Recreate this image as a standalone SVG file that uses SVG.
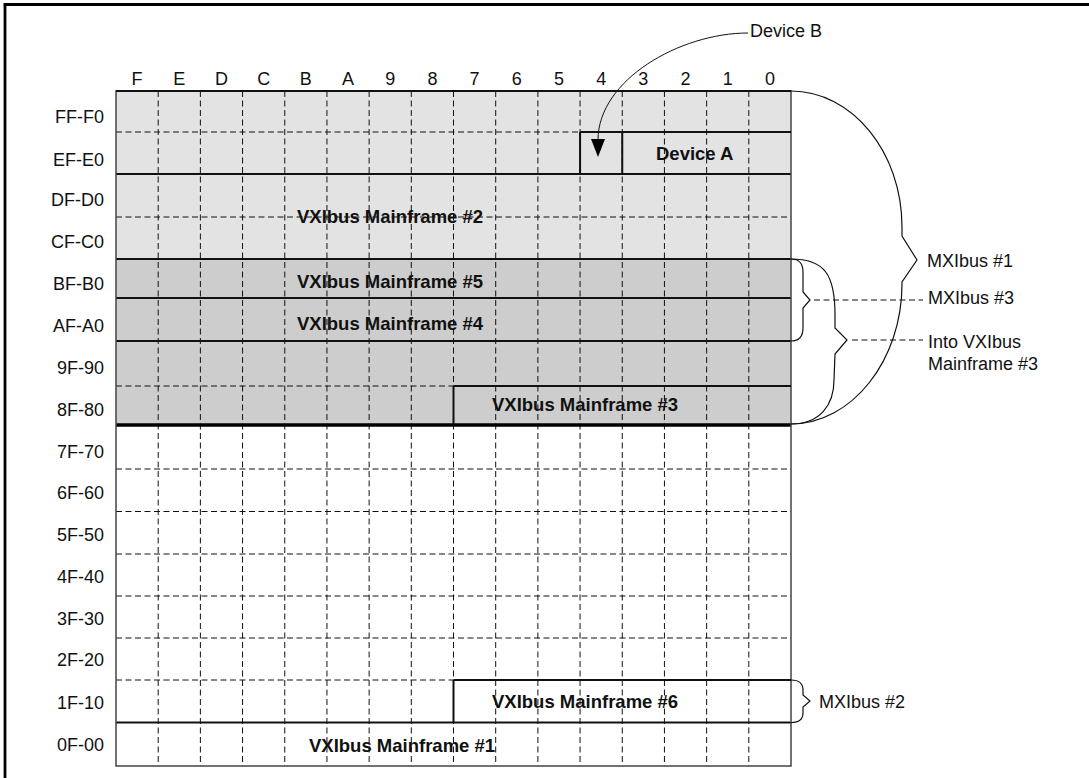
<svg xmlns="http://www.w3.org/2000/svg" width="1089" height="778" viewBox="0 0 1089 778">
<style>
.t{font-family:"Liberation Sans",Arial,Helvetica,sans-serif;font-size:18px;fill:#111}
.b{font-weight:bold;font-size:18.5px}
.e{text-anchor:end}
.m{text-anchor:middle}
.dash{fill:none;stroke:#111;stroke-width:1;stroke-dasharray:6 3.5}
.solid{fill:none;stroke:#111;stroke-width:2}
.thick{fill:none;stroke:#000;stroke-width:3.5}
.brace{fill:none;stroke:#111;stroke-width:1.2}
.lead{fill:none;stroke:#111;stroke-width:1}
.ldash{fill:none;stroke:#111;stroke-width:1;stroke-dasharray:6 3.5}
</style>
<rect width="1089" height="778" fill="#fff"/>
<g id="frame">
<path d="M3.5,4.5H1089 M5,3V778" fill="none" stroke="#000" stroke-width="2.8"/>
</g>
<g id="grid">
<rect x="116" y="91" width="675" height="168" fill="#e3e3e3"/>
<rect x="116" y="259" width="675" height="166" fill="#cdcdcd"/>
<path class="dash" d="M116,132H580 M116,217H791 M116,386H453.5 M116,469H791 M116,511.5H791 M116,554H791 M116,596H791 M116,638H791 M116,680H453.5"/>
<path class="dash" d="M158.19,91V766 M200.38,91V766 M242.56,91V766 M284.75,91V766 M326.94,91V766 M369.13,91V766 M411.31,91V766 M453.5,91V766 M495.69,91V766 M537.88,91V766 M580.06,91V766 M622.25,91V766 M664.44,91V766 M706.63,91V766 M748.81,91V766"/>
<path class="solid" d="M116,174H791 M116,259H791 M116,298H791 M116,341H791 M116,722.5H791"/>
<path class="thick" d="M116,425H791"/>
<rect x="116" y="91" width="675" height="675" fill="none" stroke="#444" stroke-width="1.5"/>
<path d="M116,91H791" stroke="#111" stroke-width="1.8"/>
</g>
<g id="column-headers" class="t m">
<text x="137.1" y="85">F</text><text x="179.3" y="85">E</text><text x="221.5" y="85">D</text><text x="263.7" y="85">C</text>
<text x="305.8" y="85">B</text><text x="348" y="85">A</text><text x="390.2" y="85">9</text><text x="432.4" y="85">8</text>
<text x="474.6" y="85">7</text><text x="516.8" y="85">6</text><text x="559" y="85">5</text><text x="601.2" y="85">4</text>
<text x="643.3" y="85">3</text><text x="685.5" y="85">2</text><text x="727.7" y="85">1</text><text x="769.9" y="85">0</text>
</g>
<g id="row-labels" class="t e">
<text x="104" y="123">FF-F0</text><text x="104" y="166">EF-E0</text><text x="104" y="206">DF-D0</text><text x="104" y="248">CF-C0</text>
<text x="104" y="290">BF-B0</text><text x="104" y="332">AF-A0</text><text x="104" y="374">9F-90</text><text x="104" y="416">8F-80</text>
<text x="104" y="458">7F-70</text><text x="104" y="499">6F-60</text><text x="104" y="541">5F-50</text><text x="104" y="583">4F-40</text>
<text x="104" y="625">3F-30</text><text x="104" y="666">2F-20</text><text x="104" y="709">1F-10</text><text x="104" y="751">0F-00</text>
</g>
<g id="device-a">
<path class="solid" d="M580.06,132H791 M580.06,132V174 M622.25,132V174"/>
<text class="t b" x="656" y="160">Device A</text>
</g>
<g id="mainframe-2"><text class="t b" x="297" y="223">VXIbus Mainframe #2</text></g>
<g id="mainframe-5"><text class="t b" x="297" y="288">VXIbus Mainframe #5</text></g>
<g id="mainframe-4"><text class="t b" x="297" y="329.5">VXIbus Mainframe #4</text></g>
<g id="mainframe-3">
<path class="solid" d="M453.5,386H791 M453.5,386V425"/>
<text class="t b" x="492" y="410.5">VXIbus Mainframe #3</text>
</g>
<g id="mainframe-6">
<path class="solid" d="M453.5,680H791 M453.5,680V722.5"/>
<text class="t b" x="492" y="708">VXIbus Mainframe #6</text>
</g>
<g id="mainframe-1"><text class="t b" x="309" y="751.5">VXIbus Mainframe #1</text></g>
<g id="device-b"><text class="t" x="750" y="37">Device B</text></g>
<g id="mxibus-1"><text class="t" x="927" y="267">MXIbus #1</text></g>
<g id="mxibus-3"><text class="t" x="928" y="304">MXIbus #3</text></g>
<g id="into-vxibus-3"><text class="t" x="928" y="348">Into VXIbus</text><text class="t" x="928" y="370">Mainframe #3</text></g>
<g id="mxibus-2"><text class="t" x="819" y="708">MXIbus #2</text></g>
<g id="connectors">
<path class="lead" d="M748,33 C680,33 598,80 598,140"/>
<polygon points="591,139 605,139 598,157" fill="#000"/>
<path class="brace" d="M791,91 C852,91 902,152 902,227 L902,236 L917,260 L902,282 L902,284 C902,360 852,424 791,424"/>
<path class="brace" d="M791,259 C799,259 803,264 803,272 L803,292 L810,300 L803,308 L803,328 C803,336 799,341 791,341"/>
<path class="ldash" d="M814,300H923"/>
<path class="brace" d="M791,259 C825,259 835,275 835,315 L835,328 L847,340 L835,354 L834,380 C834,405 820,424 791,424"/>
<path class="ldash" d="M852,340H923"/>
<path class="brace" d="M791,680 C799,680 803,684 803,690 L803,695 L810,701 L803,707 L803,713 C803,719 799,722.5 791,722.5"/>
</g>
</svg>
